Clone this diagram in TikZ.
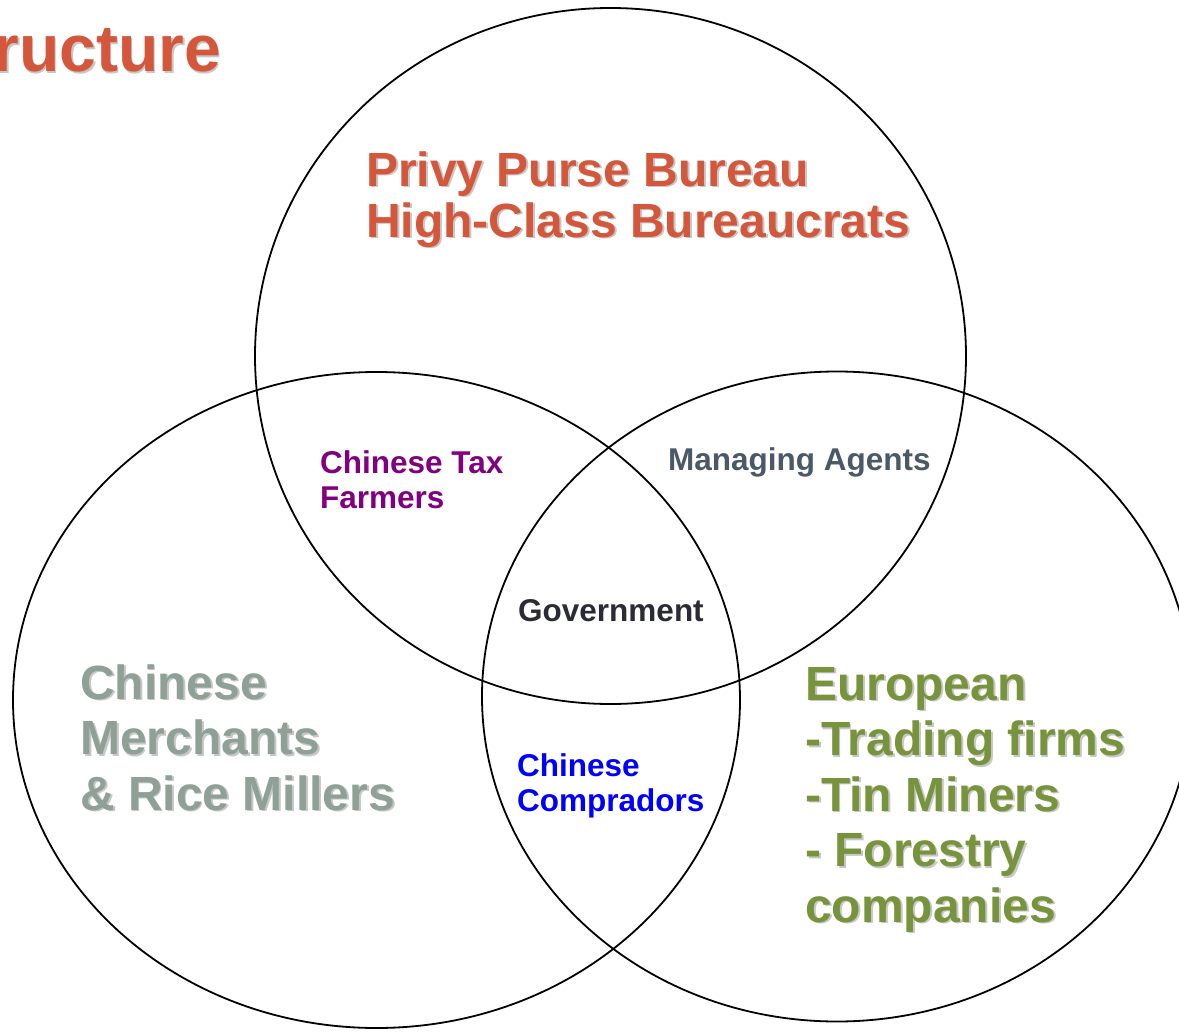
\documentclass[tikz,border=0pt]{standalone}
\usepackage{fontspec}
\setmainfont{Liberation Sans}
\definecolor{titlered}{HTML}{D4573B}
\definecolor{taxpurple}{HTML}{800080}
\definecolor{agentslate}{HTML}{4A5868}
\definecolor{govdark}{HTML}{2B2B35}
\definecolor{compblue}{HTML}{0000FF}
\definecolor{merchgray}{HTML}{8FA197}
\definecolor{eurogreen}{HTML}{77933C}
\tikzset{
  venn/.style={draw=black, line width=1.8pt},
  txt/.style={inner sep=0pt, anchor=base west, align=left, font=\bfseries},
  big/.style={txt, font=\fontsize{48}{55.5}\bfseries},
  small/.style={txt, font=\fontsize{31.5}{35}\bfseries},
  shadowtxt/.style={text=black!22, xshift=1.8pt, yshift=-1.8pt},
}
\begin{document}
\begin{tikzpicture}[x=1pt, y=-1pt]
\useasboundingbox (0,0) rectangle (1179,1033);
% circles
\draw[venn] (610.5,356) ellipse [x radius=355.5pt, y radius=348pt];
\draw[venn] (376.5,700) ellipse [x radius=363.5pt, y radius=328pt];
\draw[venn] (837,696.5) ellipse [x radius=355pt, y radius=325pt];
% title (cut off at the left edge, as in the reference)
\node[big, anchor=base east, font=\fontsize{66}{72}\bfseries, shadowtxt] (titleS) at (221,72) {Structure};
\node[big, anchor=base east, font=\fontsize{66}{72}\bfseries, text=titlered] (title) at (221,72) {Structure};
% top
\node[big, font=\fontsize{48}{51}\bfseries, shadowtxt] (privyS) at (366,237) {Privy Purse Bureau\\High-Class Bureaucrats};
\node[big, font=\fontsize{48}{51}\bfseries, text=titlered] (privy) at (366,237) {Privy Purse Bureau\\High-Class Bureaucrats};
% left
\node[big, shadowtxt] (merchS) at (80,810) {Chinese\\Merchants\\\& Rice Millers};
\node[big, text=merchgray] (merch) at (80,810) {Chinese\\Merchants\\\& Rice Millers};
% right
\node[big, shadowtxt] (euroS) at (805,922) {European\\-Trading firms\\-Tin Miners\\- Forestry\\companies};
\node[big, text=eurogreen] (euro) at (805,922) {European\\-Trading firms\\-Tin Miners\\- Forestry\\companies};
% intersections
\node[small, text=taxpurple] (tax) at (320,508) {Chinese Tax\\Farmers};
\node[small, text=agentslate] (agents) at (668,470) {Managing Agents};
\node[small, text=govdark] (gov) at (518,621) {Government};
\node[small, text=compblue] (comp) at (517,811) {Chinese\\Compradors};
\end{tikzpicture}
\end{document}
